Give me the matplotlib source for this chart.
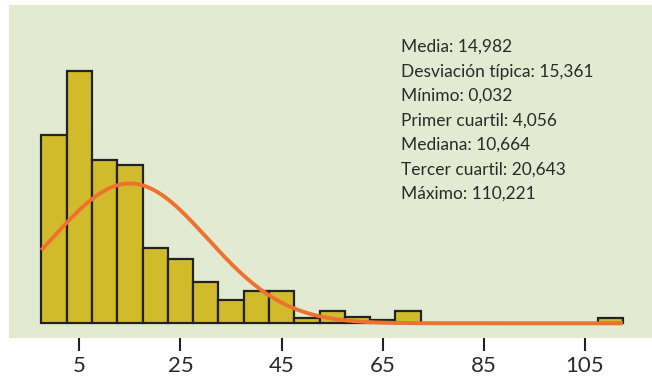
import matplotlib.pyplot as plt
import numpy as np

# bin centres (width 5) and relative frequency (%)
centres = [0, 5, 10, 15, 20, 25, 30, 35, 40, 45, 50, 55, 60, 65, 70,
           75, 80, 85, 90, 95, 100, 105, 110]
freq = [17.5, 23.4, 15.2, 14.7, 7.0, 6.0, 3.8, 2.2, 3.0, 3.0, 0.45, 1.15,
        0.6, 0.3, 1.15, 0, 0, 0, 0, 0, 0, 0, 0.5]

media = 14.982
desv = 15.361
stats = ['Media: 14,982',
         'Desviación típica: 15,361',
         'Mínimo: 0,032',
         'Primer cuartil: 4,056',
         'Mediana: 10,664',
         'Tercer cuartil: 20,643',
         'Máximo: 110,221']
ticks = [5, 25, 45, 65, 85, 105]

plt.rcParams['font.family'] = ['Lato', 'DejaVu Sans']

fig = plt.figure(figsize=(6.52, 3.79), dpi=100)
ax = fig.add_axes([9 / 652, 40.7 / 379, 643 / 652, 333.6 / 379])
ax.set_facecolor('#e2ead2')

ax.bar(centres, freq, width=5, color='#d1bb2b', edgecolor='#222222',
       linewidth=1.6, zorder=2)

# normal curve with the sample mean / sd, scaled to % per bin
x = np.linspace(-2.5, 112.5, 400)
y = 100 * 5 * np.exp(-0.5 * ((x - media) / desv) ** 2) / (desv * np.sqrt(2 * np.pi))
ax.plot(x, y, color='#f07030', linewidth=2.8, zorder=3, solid_capstyle='butt')

for i, s in enumerate(stats):
    ax.text(0.609, 0.858 - i * 0.0734, s, transform=ax.transAxes,
            fontsize=12.5, color='#2a2a2a', va='baseline', ha='left')

ax.set_xlim(-8.9, 118.25)
ax.set_ylim(-1.39, 29.58)
ax.set_xticks(ticks)
ax.set_xticklabels([str(t) for t in ticks])
ax.set_yticks([])
ax.tick_params(axis='x', direction='out', length=9.5, width=1.5,
               color='#222222', labelsize=16, labelcolor='#2a2a2a', pad=3)
for sp in ax.spines.values():
    sp.set_visible(False)

fig.savefig('out.png', dpi=100)
